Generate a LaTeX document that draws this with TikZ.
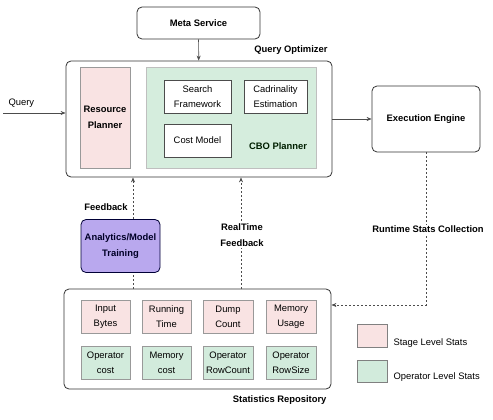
\documentclass[tikz,border=0pt]{standalone}
\usepackage{fontspec}
\setmainfont{Liberation Sans}
\usetikzlibrary{arrows.meta}
\definecolor{stagepink}{HTML}{F9E3E3}
\definecolor{opergreen}{HTML}{D2EBDC}
\definecolor{cbogreen}{HTML}{D5EDDD}
\definecolor{trainpurple}{HTML}{B9A8EE}
\tikzset{
  box/.style={draw=black!80, line width=0.8pt, rounded corners=5pt, fill=white, align=center},
  inner/.style={draw=black!70, line width=0.7pt, fill=white, align=center, inner sep=0pt},
  stage/.style={draw=black!40, fill=stagepink, align=center, inner sep=0pt, minimum width=49pt, minimum height=33pt},
  oper/.style={draw=black!40, fill=opergreen, align=center, inner sep=0pt, minimum width=49pt, minimum height=33pt},
  arr/.style={-{Stealth[length=5pt,width=4pt]}, draw=black!70, line width=0.7pt},
  dots/.style={dash pattern=on 2pt off 2pt},
  lbl/.style={font=\bfseries\fontsize{9.4}{16}\selectfont, align=center}
}
\begin{document}
\begin{tikzpicture}[x=1pt,y=-1pt,font=\fontsize{9.4}{15}\selectfont]
\useasboundingbox[fill=white] (0,0) rectangle (493,420);
% meta service and optimizer
\node[box, minimum width=123pt, minimum height=32pt, font=\bfseries\fontsize{9.4}{15}\selectfont] (meta) at (198.5,23) {Meta Service};
\node[box, minimum width=266pt, minimum height=116pt] (qo) at (199,119) {};
\node[lbl, anchor=east] (qolbl) at (331,50) {Query Optimizer};
\node[draw=black!40, fill=stagepink, minimum width=50pt, minimum height=101pt, lbl] (res) at (105,117.5) {Resource\\Planner};
\node[draw=black!25, fill=cbogreen, minimum width=170pt, minimum height=101pt] (cbo) at (231,117.5) {};
\node[inner, minimum width=67pt, minimum height=33pt] (search) at (197.5,96.5) {Search\\Framework};
\node[inner, minimum width=63pt, minimum height=33pt] (card) at (275.5,96.5) {Cadrinality\\Estimation};
\node[inner, minimum width=67pt, minimum height=33pt] (cost) at (197.5,140.5) {Cost Model};
\node[lbl, text=black!80!green!60!black] (cbolbl) at (278,146) {CBO Planner};
% query in, engine out
\node[anchor=base west] (query) at (5,106) {Query};
\coordinate (qin) at (3,113);
\node[box, minimum width=108pt, minimum height=66pt, font=\bfseries\fontsize{9.4}{15}\selectfont] (exec) at (426,119) {Execution Engine};
\draw[arr] (meta) -- (qo);
\draw[arr] (qin) -- (qin -| qo.west);
\draw[arr] (qo.east) -- (exec.west);
% statistics repository
\node[box, minimum width=267pt, minimum height=100pt] (stats) at (197.5,339) {};
\node[lbl, anchor=east] (statslbl) at (330,400) {Statistics Repository};
\node[stage] (inbytes) at (105.5,316.5) {Input\\Bytes};
\node[stage] (runtime) at (166.5,316.5) {Running\\Time};
\node[stage, minimum width=50pt] (dump) at (228,316.5) {Dump\\Count};
\node[stage, minimum width=50pt] (memuse) at (291,316.5) {Memory\\Usage};
\node[oper] (opcost) at (105.5,362.5) {Operator\\cost};
\node[oper] (memcost) at (166.5,362.5) {Memory\\cost};
\node[oper, minimum width=50pt] (rowcount) at (228,362.5) {Operator\\RowCount};
\node[oper, minimum width=50pt] (rowsize) at (291,362.5) {Operator\\RowSize};
% analytics and feedback
\node[draw=black!65!blue!60!black, line width=0.8pt, fill=trainpurple, rounded corners=5pt, minimum width=79pt, minimum height=53pt, lbl, text=black!85!blue] (train) at (120.5,246) {Analytics/Model\\Training};
\coordinate (fb) at (133,0);
\coordinate (rt) at (241,0);
\coordinate (rc) at (426,305);
\draw[draw=black!70, line width=0.7pt, dots] (fb |- stats.north) -- (fb |- train.south);
\draw[arr, dots] (fb |- train.north) -- (fb |- qo.south);
\node[lbl] (fblbl) at (106,207.5) {Feedback};
\draw[arr, dots] (rt |- stats.north) -- (rt |- qo.south);
\node[lbl, fill=white, inner sep=1pt] (rtlbl) at (242,235.5) {RealTime\\Feedback};
\draw[arr, dots] (exec.south) -- (rc) -- (rc -| stats.east);
\node[lbl, fill=white, inner sep=1pt] (rclbl) at (428,229.5) {Runtime Stats Collection};
% legend
\node[stage, draw=black!50, minimum width=30pt, minimum height=23pt] (legstage) at (372,335.5) {};
\node[anchor=base west] (legstagetxt) at (390,345) {Stage Level Stats};
\node[oper, draw=black!50, minimum width=30pt, minimum height=22pt] (legoper) at (372,371) {};
\node[anchor=base west] (legopertxt) at (390,379.5) {Operator Level Stats};
\end{tikzpicture}
\end{document}
